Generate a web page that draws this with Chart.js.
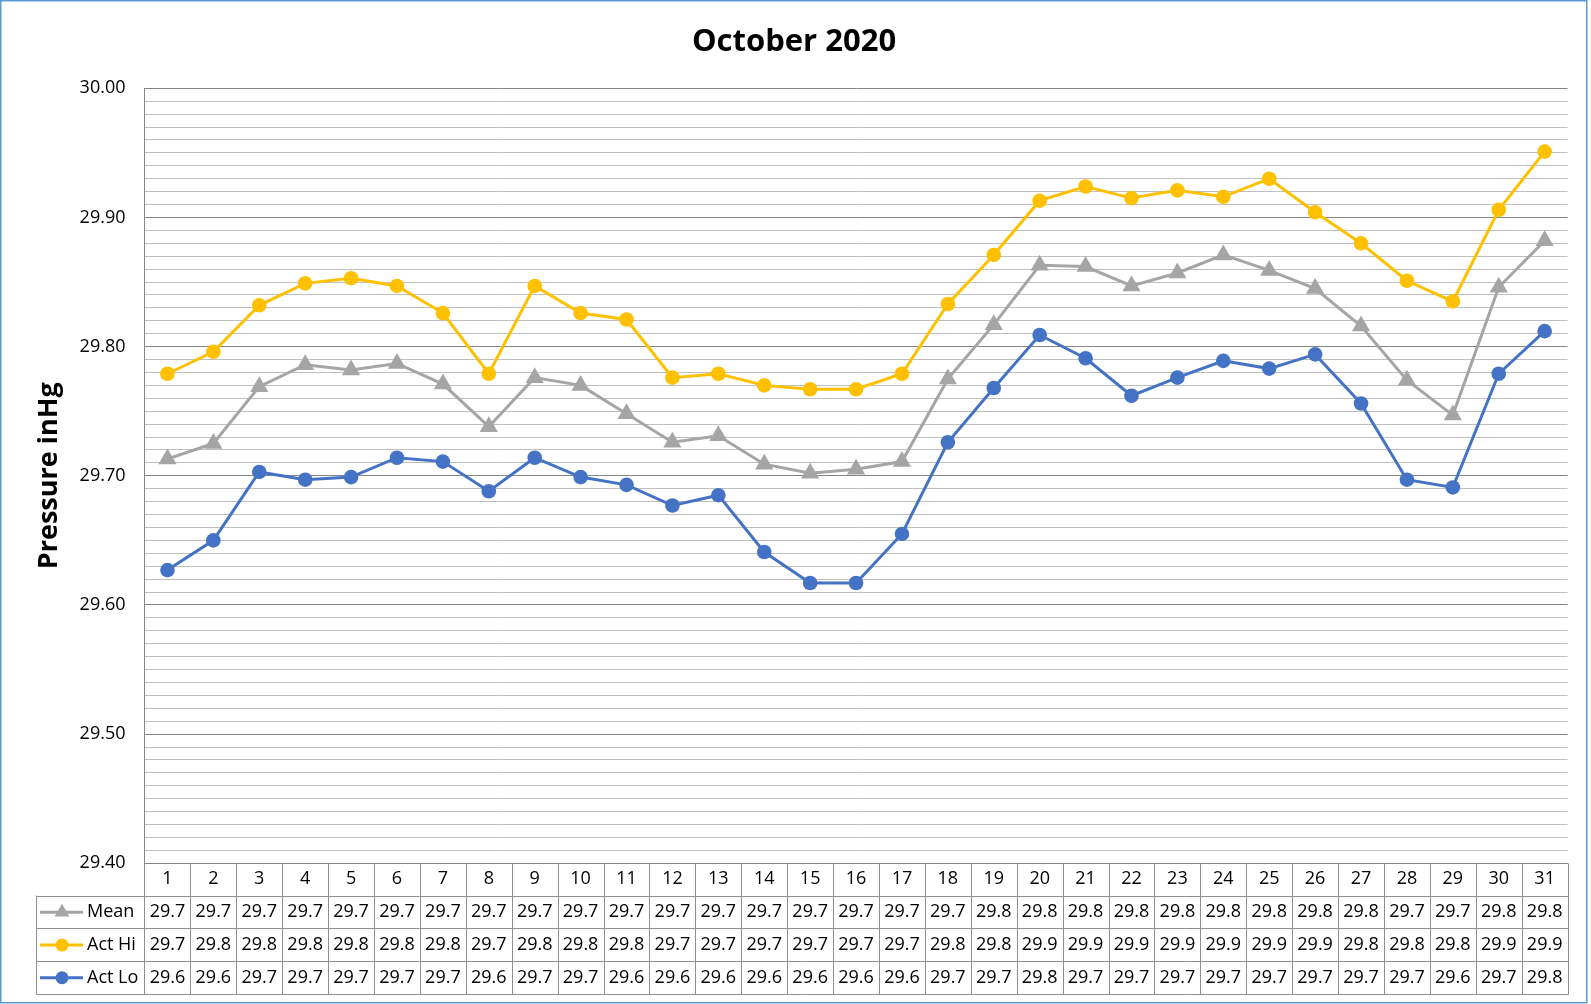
<!DOCTYPE html>
<html>
<head>
<meta charset="utf-8">
<title>October 2020</title>
<script src="https://cdn.jsdelivr.net/npm/chart.js@4.4.1/dist/chart.umd.min.js"></script>
<style>
  html, body { margin: 0; padding: 0; background: #fff; }
  #wrap { width: 1591px; height: 1004px; }
</style>
</head>
<body>
<div id="wrap"><canvas id="pressure" width="1591" height="1004"></canvas></div>
<script>
// days of the month
const days = ['1','2','3','4','5','6','7','8','9','10','11','12','13','14','15','16',
              '17','18','19','20','21','22','23','24','25','26','27','28','29','30','31'];

// pressure, inHg
const meanVals = [29.713, 29.725, 29.769, 29.786, 29.782, 29.787, 29.771, 29.738, 29.776, 29.770,
                  29.748, 29.726, 29.731, 29.709, 29.702, 29.705, 29.711, 29.775, 29.817, 29.863,
                  29.862, 29.847, 29.857, 29.871, 29.859, 29.845, 29.816, 29.774, 29.747, 29.846, 29.882];
const hiVals   = [29.779, 29.796, 29.832, 29.849, 29.853, 29.847, 29.826, 29.779, 29.847, 29.826,
                  29.821, 29.776, 29.779, 29.770, 29.767, 29.767, 29.779, 29.833, 29.871, 29.913,
                  29.924, 29.915, 29.921, 29.916, 29.930, 29.904, 29.880, 29.851, 29.835, 29.906, 29.951];
const loVals   = [29.627, 29.650, 29.703, 29.697, 29.699, 29.714, 29.711, 29.688, 29.714, 29.699,
                  29.693, 29.677, 29.685, 29.641, 29.617, 29.617, 29.655, 29.726, 29.768, 29.809,
                  29.791, 29.762, 29.776, 29.789, 29.783, 29.794, 29.756, 29.697, 29.691, 29.779, 29.812];

// values as printed in the data table under the chart
const meanTable = ['29.7','29.7','29.7','29.7','29.7','29.7','29.7','29.7','29.7','29.7','29.7','29.7','29.7','29.7','29.7','29.7',
                   '29.7','29.7','29.8','29.8','29.8','29.8','29.8','29.8','29.8','29.8','29.8','29.7','29.7','29.8','29.8'];
const hiTable   = ['29.7','29.8','29.8','29.8','29.8','29.8','29.8','29.7','29.8','29.8','29.8','29.7','29.7','29.7','29.7','29.7',
                   '29.7','29.8','29.8','29.9','29.9','29.9','29.9','29.9','29.9','29.9','29.8','29.8','29.8','29.9','29.9'];
const loTable   = ['29.6','29.6','29.7','29.7','29.7','29.7','29.7','29.6','29.7','29.7','29.6','29.6','29.6','29.6','29.6','29.6',
                   '29.6','29.7','29.7','29.8','29.7','29.7','29.7','29.7','29.7','29.7','29.7','29.7','29.6','29.7','29.8'];

const FONT = '"Open Sans", "Noto Sans", sans-serif';
const GREY = '#A5A5A5', GOLD = '#FFC000', BLUE = '#4472C4';

// title, outer border and the data table with its legend keys
const tablePlugin = {
  id: 'dataTable',
  afterDraw(chart) {
    const { ctx, chartArea, scales: { x } } = chart;
    const colW = x.getPixelForValue(1) - x.getPixelForValue(0);
    const right = Math.round(chartArea.right) + 0.5;
    const headTop = Math.round(chartArea.bottom) + 0.5;
    const headBot = headTop + 32;
    const rowH = 32.7;
    const keyLeft = 36.5;
    const bottom = Math.round(headBot + 3 * rowH) + 0.5;

    ctx.save();
    // title
    ctx.fillStyle = '#000';
    ctx.font = 'bold 31px ' + FONT;
    ctx.textAlign = 'center';
    ctx.textBaseline = 'alphabetic';
    ctx.fillText('October 2020', 794, 51);

    // outer border
    ctx.strokeStyle = '#5B9BD5';
    ctx.lineWidth = 1.5;
    ctx.strokeRect(0.75, 0.75, 1586, 1002);

    // grid of the table
    ctx.strokeStyle = '#8F8F8F';
    ctx.lineWidth = 1;
    ctx.beginPath();
    for (let r = 0; r < 4; r++) {
      const y = Math.round(headBot + r * rowH) + 0.5;
      ctx.moveTo(keyLeft, y);
      ctx.lineTo(right, y);
    }
    for (let i = 0; i < days.length; i++) {
      const bx = Math.round(x.getPixelForValue(i) - colW / 2) + 0.5;
      ctx.moveTo(bx, headTop);
      ctx.lineTo(bx, bottom);
    }
    ctx.moveTo(right, headTop);
    ctx.lineTo(right, bottom);
    ctx.moveTo(keyLeft, headBot);
    ctx.lineTo(keyLeft, bottom);
    ctx.stroke();

    // rows
    const rows = [
      { name: 'Mean',   vals: meanTable, ds: chart.data.datasets[0] },
      { name: 'Act Hi', vals: hiTable,   ds: chart.data.datasets[1] },
      { name: 'Act Lo', vals: loTable,   ds: chart.data.datasets[2] }
    ];
    ctx.font = '18px ' + FONT;
    ctx.textBaseline = 'middle';
    rows.forEach((row, r) => {
      const cy = headBot + r * rowH + rowH / 2 + 0.5;
      ctx.fillStyle = '#000';
      ctx.textAlign = 'center';
      row.vals.forEach((t, i) => ctx.fillText(t, x.getPixelForValue(i), cy));
      ctx.textAlign = 'left';
      ctx.fillText(row.name, 87, cy);

      // legend key
      ctx.strokeStyle = row.ds.borderColor;
      ctx.fillStyle = row.ds.borderColor;
      ctx.lineWidth = 3;
      ctx.beginPath();
      ctx.moveTo(40, cy);
      ctx.lineTo(83, cy);
      ctx.stroke();
      const mx = 62;
      ctx.beginPath();
      if (row.ds.pointStyle === 'triangle') {
        const rad = 8.5;
        ctx.moveTo(mx, cy - rad);
        ctx.lineTo(mx + rad * 0.87, cy + rad * 0.5);
        ctx.lineTo(mx - rad * 0.87, cy + rad * 0.5);
        ctx.closePath();
      } else {
        ctx.arc(mx, cy, 6.5, 0, Math.PI * 2);
      }
      ctx.fill();
    });
    ctx.restore();
  }
};

const ctx = document.getElementById('pressure').getContext('2d');
const pressureChart = new Chart(ctx, {
  type: 'line',
  data: {
    labels: days,
    datasets: [
      {
        label: 'Mean', data: meanVals,
        borderColor: GREY, backgroundColor: GREY, borderWidth: 3,
        pointStyle: 'triangle', pointRadius: 10.5, pointBorderWidth: 0,
        tension: 0
      },
      {
        label: 'Act Hi', data: hiVals,
        borderColor: GOLD, backgroundColor: GOLD, borderWidth: 3,
        pointStyle: 'circle', pointRadius: 7.3, pointBorderWidth: 0,
        tension: 0
      },
      {
        label: 'Act Lo', data: loVals,
        borderColor: BLUE, backgroundColor: BLUE, borderWidth: 3,
        pointStyle: 'circle', pointRadius: 7.3, pointBorderWidth: 0,
        tension: 0
      }
    ]
  },
  options: {
    responsive: false,
    animation: false,
    layout: { padding: { top: 88.3, right: 23.4, bottom: 0, left: 0 } },
    plugins: {
      legend: { display: false },
      title: { display: false },
      tooltip: { enabled: false }
    },
    scales: {
      x: {
        offset: true,
        grid: { display: false, drawTicks: false },
        border: { display: true, color: '#868686' },
        ticks: { color: '#000', padding: 5, autoSkip: false, maxRotation: 0, font: { family: FONT, size: 18 } },
        afterFit: s => { s.height = 140.7; }
      },
      y: {
        min: 29.4,
        max: 30.0,
        ticks: {
          stepSize: 0.01,
          autoSkip: false,
          padding: 19,
          color: '#000',
          font: { family: FONT, size: 18 },
          callback: v => (Math.round(v * 100) % 10 === 0 ? v.toFixed(2) : '')
        },
        grid: {
          drawTicks: false,
          color: c => (Math.round(c.tick.value * 100) % 10 === 0 ? '#868686' : '#BFBFBF')
        },
        border: { color: '#868686' },
        title: {
          display: true,
          text: 'Pressure inHg',
          color: '#000',
          font: { family: FONT, size: 27, weight: 'bold' },
          padding: { top: 33, bottom: 0 }
        },
        afterFit: s => { s.width = 144.5; }
      }
    }
  },
  plugins: [tablePlugin]
});
</script>
</body>
</html>
